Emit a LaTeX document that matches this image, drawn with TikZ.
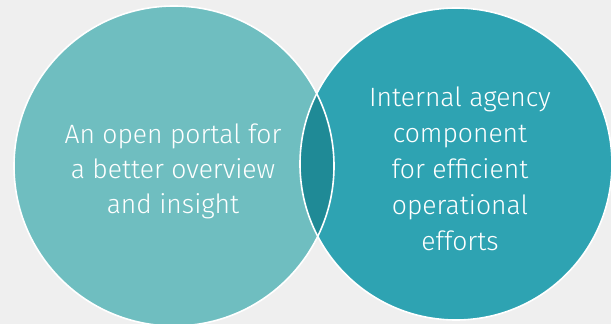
\documentclass[tikz,border=0pt]{standalone}
\usepackage{fontspec}
\setmainfont{Fira Sans}[UprightFont={* Light}]
\definecolor{bgc}{RGB}{239,239,239}
\definecolor{leftc}{RGB}{111,190,192}
\definecolor{rightc}{RGB}{46,163,178}
\definecolor{lensc}{RGB}{31,138,150}
\tikzset{
  circ/.style={draw=white,line width=1.6pt},
  lbl/.style={text=white,align=center,font=\fontsize{26.5}{35}\selectfont},
}
\begin{document}
\begin{tikzpicture}[x=1pt,y=1pt]
\fill[bgc] (0,0) rectangle (611,324);
\useasboundingbox (0,0) rectangle (611,324);
\coordinate (cl) at (174,158);
\coordinate (cr) at (456,160);
\fill[leftc] (cl) circle (160);
\fill[rightc] (cr) circle (156);
\begin{scope}
  \clip (cl) circle (160);
  \fill[lensc] (cr) circle (156);
\end{scope}
\draw[circ] (cl) circle (160);
\draw[circ] (cr) circle (156);
\node[lbl] (tl) at (173,153) {An open portal for\\a better overview\\and insight};
\node[lbl,font=\fontsize{26.5}{36}\selectfont] (tr) at (460,155) {Internal agency\\component\\for efficient\\operational\\efforts};
\end{tikzpicture}
\end{document}
